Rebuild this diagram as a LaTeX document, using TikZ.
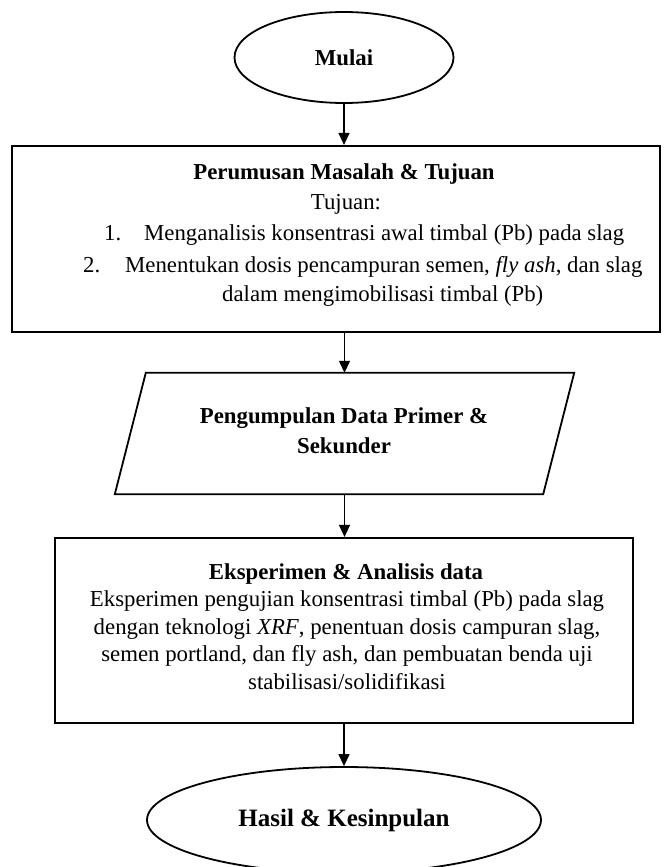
\documentclass[tikz,border=0pt]{standalone}
\usepackage{fontspec}
\setmainfont{Liberation Serif}
\usetikzlibrary{shapes.geometric,arrows.meta}
\begin{document}
\begin{tikzpicture}[x=1pt,y=-1pt,
  every node/.style={font=\fontsize{22.8}{27.5}\selectfont},
  ell/.style={draw, ellipse, line width=1.8pt, inner sep=0pt},
  rectbox/.style={draw, rectangle, line width=2.2pt, inner sep=0pt},
  txt/.style={anchor=base, inner sep=0pt},
  conn/.style={-{Triangle[length=12pt,width=11pt]}, line width=1.3pt}]
\useasboundingbox (0,0) rectangle (665,867);
\clip (0,0) rectangle (665,867);

% shapes
\node[ell, minimum width=219pt, minimum height=91pt] (start) at (344,57.5) {\bfseries Mulai};
\node[rectbox, minimum width=648pt, minimum height=186pt] (box1) at (336,239) {};
\node[minimum width=428pt, minimum height=121pt, inner sep=0pt] (para) at (344.5,433.5) {};
\draw[line width=1.8pt] ([xshift=15.5pt]para.north west) -- ([xshift=15.5pt]para.north east)
  -- ([xshift=-15.5pt]para.south east) -- ([xshift=-15.5pt]para.south west) -- cycle;
\node[rectbox, minimum width=578pt, minimum height=185pt] (box3) at (344,630.5) {};
\node[ell, minimum width=394pt, minimum height=106pt, font=\fontsize{25}{30}\selectfont] (finish) at (344,820) {\bfseries Hasil \& Kesinpulan};

% texts of box 1
\node[txt] (b1t) at (344,179) {\bfseries Perumusan Masalah \& Tujuan};
\node[txt] (b1a) at (346,209) {Tujuan:};
\node[txt, anchor=base west] (b1n1) at (104,240) {1.};
\node[txt, anchor=base west] (b1l1) at (144,240) {Menganalisis konsentrasi awal timbal (Pb) pada slag};
\node[txt, anchor=base west] (b1n2) at (83,272) {2.};
\node[txt, anchor=base west] (b1l2) at (125,272) {Menentukan dosis pencampuran semen, \textit{fly ash}, dan slag};
\node[txt, anchor=base west] (b1l3) at (222,301) {dalam mengimobilisasi timbal (Pb)};

% texts of parallelogram
\node[txt] (pt1) at (344,423) {\bfseries Pengumpulan Data Primer \&};
\node[txt] (pt2) at (344,453) {\bfseries Sekunder};

% texts of box 3
\node[txt] (b3t) at (346,579) {\bfseries Eksperimen \& Analisis data};
\node[txt] (b3l1) at (347,606.5) {Eksperimen pengujian konsentrasi timbal (Pb) pada slag};
\node[txt] (b3l2) at (347,634) {dengan teknologi \textit{XRF}, penentuan dosis campuran slag,};
\node[txt] (b3l3) at (347,661.5) {semen portland, dan fly ash, dan pembuatan benda uji};
\node[txt] (b3l4) at (347,689) {stabilisasi/solidifikasi};

% connectors
\draw[conn] (start.south) -- (start.south |- box1.north);
\draw[conn] (box1.south -| para.north) -- (para.north);
\draw[conn] (para.south) -- (para.south |- box3.north);
\draw[conn] (box3.south -| finish.north) -- (finish.north);
\end{tikzpicture}
\end{document}
